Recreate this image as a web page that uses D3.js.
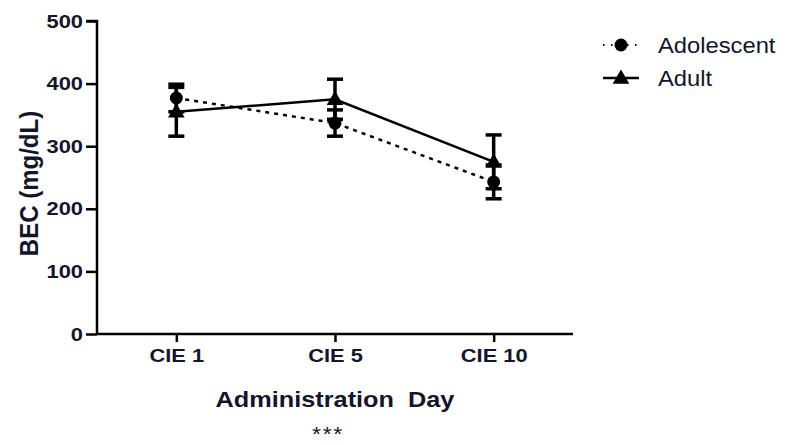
<!DOCTYPE html>
<html>
<head>
<meta charset="utf-8">
<script src="https://cdn.jsdelivr.net/npm/d3@7"></script>
<style>
  html, body { margin: 0; padding: 0; background: #fff; }
  svg { display: block; }
  text { font-family: Arial, "Liberation Sans", sans-serif; fill: #14142a; }
</style>
</head>
<body>
<svg id="chart" width="791" height="445"></svg>
<script>
// Blood ethanol concentration by administration day
const days = ["CIE 1", "CIE 5", "CIE 10"];
const adolescentMean = [377, 337, 243];
const adolescentSem = [22, 21, 27];
const adultMean = [355, 375, 275];
const adultSem = [39, 32, 43];
const yTicks = [0, 100, 200, 300, 400, 500];

const series = [
  { name: "Adolescent", mean: adolescentMean, sem: adolescentSem, dash: "4,5", marker: "circle" },
  { name: "Adult", mean: adultMean, sem: adultSem, dash: null, marker: "triangle" }
];

const svg = d3.select("#chart");
const plotLeft = 97, plotRight = 573, plotTop = 21, plotBottom = 334;
const stretch = 1.15; // wide lettering

const x = d3.scalePoint().domain(days).range([plotLeft, plotRight]).padding(0.5);
const y = d3.scaleLinear().domain([0, 500]).range([plotBottom, plotTop]);

// Axes
const yAxis = svg.append("g").attr("transform", `translate(${plotLeft},0)`)
  .call(d3.axisLeft(y).tickValues(yTicks).tickSize(11).tickPadding(3));
const xAxis = svg.append("g").attr("transform", `translate(0,${plotBottom})`)
  .call(d3.axisBottom(x).tickSize(8).tickPadding(7));
[yAxis, xAxis].forEach(g => {
  g.select(".domain").attr("stroke", "#000").attr("stroke-width", 2.5);
  g.selectAll(".tick line").attr("stroke", "#000").attr("stroke-width", 2.5);
  g.selectAll(".tick text").attr("font-size", 19).attr("font-weight", "bold")
    .attr("fill", "#14142a").attr("font-family", "Arial, 'Liberation Sans', sans-serif")
    .attr("transform", `scale(${stretch},1)`);
});
yAxis.selectAll(".tick text").attr("x", -14 / stretch);
yAxis.select(".domain").attr("d", `M-11,${plotTop}H0V${plotBottom}`);
xAxis.select(".domain").attr("d", `M${plotLeft},0H${plotRight}`);

// Axis titles
svg.append("text")
  .attr("transform", `translate(38,${(plotTop + plotBottom) / 2 + 6}) scale(1.08,1) rotate(-90)`)
  .attr("text-anchor", "middle").attr("font-size", 24).attr("font-weight", "bold")
  .text("BEC (mg/dL)");
svg.append("text")
  .attr("transform", `translate(${x("CIE 5")},407) scale(${stretch},1)`)
  .attr("text-anchor", "middle")
  .attr("font-size", 22).attr("font-weight", "bold").attr("xml:space", "preserve")
  .text("Administration  Day");
svg.append("text")
  .attr("transform", `translate(${x("CIE 5") - 7},441) scale(${stretch},1)`)
  .attr("text-anchor", "middle").attr("letter-spacing", 1.5)
  .attr("font-size", 20).text("***");

const line = d3.line().x((d, i) => x(days[i])).y(d => y(d));
const triangle = d3.symbol().type(d3.symbolTriangle).size(120);

function drawMarker(g, type, cx, cy) {
  if (type === "circle") {
    g.append("circle").attr("cx", cx).attr("cy", cy).attr("r", 6.5).attr("fill", "#000");
  } else {
    g.append("path").attr("d", triangle()).attr("transform", `translate(${cx},${cy + 1})`).attr("fill", "#000");
  }
}

series.forEach(s => {
  const g = svg.append("g");
  g.append("path").datum(s.mean).attr("d", line)
    .attr("fill", "none").attr("stroke", "#000").attr("stroke-width", 2.5)
    .attr("stroke-dasharray", s.dash);
  s.mean.forEach((m, i) => {
    const cx = x(days[i]);
    const y1 = y(m + s.sem[i]), y2 = y(m - s.sem[i]);
    g.append("line").attr("x1", cx).attr("x2", cx).attr("y1", y1).attr("y2", y2)
      .attr("stroke", "#000").attr("stroke-width", 3.5);
    [y1, y2].forEach(yy => g.append("line").attr("x1", cx - 8).attr("x2", cx + 8)
      .attr("y1", yy).attr("y2", yy).attr("stroke", "#000").attr("stroke-width", 3.5));
    drawMarker(g, s.marker, cx, y(m));
  });
});

// Legend
const legend = svg.append("g");
series.forEach((s, i) => {
  const ly = 45 + i * 33;
  legend.append("line").attr("x1", 603).attr("x2", 639).attr("y1", ly).attr("y2", ly)
    .attr("stroke", "#000").attr("stroke-width", s.dash ? 2 : 2.5)
    .attr("stroke-dasharray", s.dash ? "1.5,6.5" : null);
  drawMarker(legend, s.marker, 621, ly);
  legend.append("text").attr("transform", `translate(658,${ly}) scale(1.08,1)`)
    .attr("dy", "0.36em").attr("font-size", 22).text(s.name);
});
</script>
</body>
</html>
